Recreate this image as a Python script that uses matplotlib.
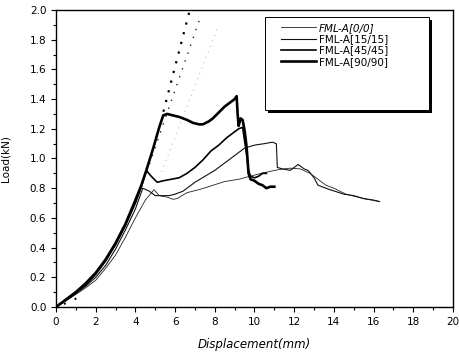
import matplotlib as mpl
mpl.use('Agg')
import numpy as np
import matplotlib.pyplot as plt
from matplotlib.patches import Rectangle
from matplotlib.ticker import MultipleLocator

# load-displacement curves
x_00 = [0, 0.5, 1, 1.5, 2, 2.5, 3, 3.5, 4, 4.5, 4.94, 5.2, 5.6, 5.9, 6.1, 6.6, 7.2, 7.8,
        8.5, 9.2, 9.9, 10.5, 11.2, 11.8, 12.3, 12.8, 13.2, 13.6, 14.0, 14.6, 15.5, 16.3]
y_00 = [0, 0.04, 0.085, 0.13, 0.18, 0.26, 0.35, 0.47, 0.60, 0.72, 0.79, 0.75, 0.74, 0.725,
        0.73, 0.77, 0.79, 0.815, 0.845, 0.86, 0.885, 0.905, 0.925, 0.935, 0.93, 0.90, 0.86,
        0.82, 0.80, 0.76, 0.73, 0.71]

x_15 = [0, 0.5, 1, 1.5, 2, 2.5, 3, 3.5, 4, 4.37, 4.7, 5.0, 5.3, 5.7, 6.0, 6.4, 7.0, 7.5,
        8.0, 8.5, 9.0, 9.5, 10.0, 10.5, 10.9, 11.1, 11.15, 11.4, 11.8, 12.0, 12.2, 12.5,
        12.7, 13.0, 13.2, 13.4, 13.8, 14.5, 15.0, 15.5, 16.0, 16.3]
y_15 = [0, 0.045, 0.09, 0.14, 0.20, 0.28, 0.39, 0.52, 0.66, 0.80, 0.78, 0.75, 0.75, 0.75,
        0.76, 0.78, 0.84, 0.88, 0.92, 0.97, 1.02, 1.07, 1.09, 1.10, 1.11, 1.10, 0.94, 0.93,
        0.92, 0.94, 0.96, 0.93, 0.92, 0.87, 0.82, 0.81, 0.79, 0.76, 0.75, 0.73, 0.72, 0.71]

x_45 = [0, 0.5, 1, 1.5, 2, 2.5, 3, 3.5, 4, 4.3, 4.55, 4.8, 5.1, 5.4, 5.8, 6.2, 6.6, 7.0,
        7.4, 7.8, 8.2, 8.6, 9.0, 9.2, 9.4, 9.5, 9.6, 9.7, 9.8, 10.0, 10.2, 10.4, 10.6]
y_45 = [0, 0.05, 0.10, 0.15, 0.22, 0.31, 0.42, 0.55, 0.70, 0.81, 0.92, 0.88, 0.84, 0.85,
        0.86, 0.87, 0.90, 0.94, 0.99, 1.05, 1.09, 1.14, 1.18, 1.20, 1.21, 1.12, 1.03, 0.92,
        0.88, 0.87, 0.88, 0.90, 0.90]

x_90 = [0, 0.5, 1.0, 1.5, 2.0, 2.5, 3.0, 3.5, 4.0, 4.3, 4.55, 4.9, 5.2, 5.4, 5.6, 5.9, 6.2,
        6.6, 6.9, 7.2, 7.4, 7.7, 7.9, 8.2, 8.5, 8.8, 9.0, 9.1, 9.15, 9.2, 9.3, 9.4, 9.5,
        9.6, 9.7, 9.8, 10.0, 10.2, 10.4, 10.6, 10.8, 11.0]
y_90 = [0, 0.05, 0.10, 0.16, 0.23, 0.32, 0.43, 0.56, 0.72, 0.82, 0.92, 1.07, 1.21, 1.29,
        1.30, 1.29, 1.28, 1.26, 1.24, 1.23, 1.23, 1.25, 1.27, 1.31, 1.35, 1.38, 1.40, 1.42,
        1.30, 1.22, 1.27, 1.26, 1.19, 1.08, 0.90, 0.86, 0.85, 0.83, 0.82, 0.80, 0.81, 0.81]

# dotted stiffness lines
dotA_x, dotA_y = [5.41, 6.72], [1.315, 1.99]
dotB_x, dotB_y = [4.57, 7.32], [0.91, 1.97]
dotC_x, dotC_y = [5.32, 8.18], [0.91, 1.895]
dotD_x, dotD_y = [0.4, 1.15], [0.02, 0.065]

labels = ['FML-A[0/0]', 'FML-A[15/15]', 'FML-A[45/45]', 'FML-A[90/90]']

fig = plt.figure(figsize=(4.59, 3.6), dpi=100)
ax = fig.add_axes([56/459, 1-307/360, 397/459, 297/360])

ax.plot(dotC_x, dotC_y, color='#aaaaaa', lw=0.7, ls=(0, (1, 5)))
ax.plot(dotB_x, dotB_y, color='#222222', lw=1.0, ls=(0, (1, 5)))
ax.plot(dotA_x, dotA_y, color='black', lw=1.6, ls=(0, (1, 3.5)))
ax.plot(dotD_x, dotD_y, color='black', lw=1.4, ls=(0, (1, 5)))

l1, = ax.plot(x_00, y_00, color='#222222', lw=0.6)
l2, = ax.plot(x_15, y_15, color='#111111', lw=0.8)
l3, = ax.plot(x_45, y_45, color='black', lw=1.2)
l4, = ax.plot(x_90, y_90, color='black', lw=1.9)

ax.set_xlim(0, 20)
ax.set_ylim(0, 2.0)
ax.xaxis.set_major_locator(MultipleLocator(2))
ax.xaxis.set_minor_locator(MultipleLocator(1))
ax.yaxis.set_major_locator(MultipleLocator(0.2))
ax.yaxis.set_minor_locator(MultipleLocator(0.1))
ax.yaxis.set_major_formatter(mpl.ticker.FormatStrFormatter('%.1f'))
ax.tick_params(which='both', direction='out', top=False, right=False, labelsize=7.5, width=0.8)
ax.tick_params(which='major', length=3.5)
ax.tick_params(which='minor', length=2)
for s in ax.spines.values():
    s.set_linewidth(1.0)

ax.set_xlabel('Displacement(mm)', fontsize=8.5, style='italic', labelpad=8)
ax.set_ylabel('Load(kN)', fontsize=7.5, labelpad=14)

# legend box with drop shadow
bx0, bx1 = 0.526, 0.940
by0, by1 = 0.663, 0.976
ax.add_patch(Rectangle((bx0 + 0.008, by0 - 0.011), bx1 - bx0, by1 - by0,
                       transform=ax.transAxes, facecolor='black', edgecolor='none', zorder=4))
ax.add_patch(Rectangle((bx0, by0), bx1 - bx0, by1 - by0, transform=ax.transAxes,
                       facecolor='white', edgecolor='black', lw=0.7, zorder=5))
leg = ax.legend([l1, l2, l3, l4], labels, loc='upper left', frameon=False,
                bbox_to_anchor=(281/459, 1-23/360), bbox_transform=fig.transFigure,
                borderpad=0, borderaxespad=0, fontsize=7.5, handlelength=3.4,
                handletextpad=0.25, labelspacing=0.12)
leg.set_zorder(6)
leg.get_texts()[0].set_style('italic')

fig.savefig('out.png', dpi=100)
